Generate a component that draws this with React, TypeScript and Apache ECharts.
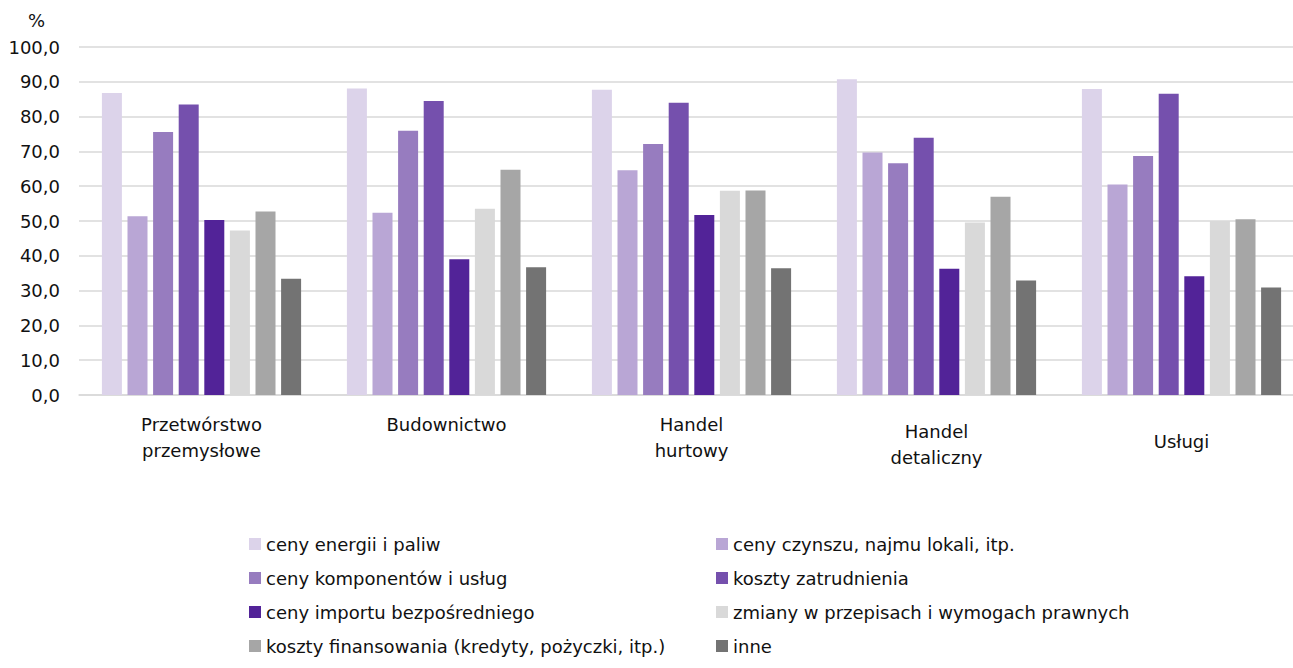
import React, { useEffect, useRef } from "react";
import * as echarts from "echarts";

const categories = [
  "Przetwórstwo\nprzemysłowe",
  "Budownictwo",
  "Handel\nhurtowy",
  "Handel\ndetaliczny",
  "Usługi",
];
const labelOffsets = [0, 0, 0, 7, 17];

const seriesNames = [
  "ceny energii i paliw",
  "ceny czynszu, najmu lokali, itp.",
  "ceny komponentów i usług",
  "koszty zatrudnienia",
  "ceny importu bezpośredniego",
  "zmiany w przepisach i wymogach prawnych",
  "koszty finansowania (kredyty, pożyczki, itp.)",
  "inne",
];
const colors = ["#DCD3EA", "#B9A6D5", "#977CBF", "#7550AD", "#522398", "#D9D9D9", "#A6A6A6", "#737373"];

const energia = [86.8, 88.1, 87.7, 90.7, 87.9];
const czynsz = [51.4, 52.4, 64.6, 69.7, 60.5];
const komponenty = [75.6, 75.9, 72.1, 66.6, 68.7];
const zatrudnienie = [83.5, 84.5, 84.0, 73.9, 86.6];
const import_ = [50.3, 39.0, 51.7, 36.3, 34.1];
const przepisy = [47.3, 53.5, 58.7, 49.6, 50.0];
const finansowanie = [52.7, 64.7, 58.8, 57.0, 50.5];
const inne = [33.4, 36.7, 36.4, 32.9, 30.9];
const seriesValues = [energia, czynsz, komponenty, zatrudnienie, import_, przepisy, finansowanie, inne];

const yTicks = { min: 0, max: 100, interval: 10 };

const FONT = "'DejaVu Sans', sans-serif";
const TXT = "#111";
const FS = 18;

export default function App() {
  const ref = useRef<HTMLDivElement>(null);
  useEffect(() => {
    document.body.style.margin = "0";
    document.body.style.overflow = "hidden";
    document.documentElement.style.overflow = "hidden";
    const chart = echarts.init(ref.current!, null, { renderer: "svg" });
    const legendBase = {
      orient: "vertical",
      top: 535,
      padding: 0,
      itemWidth: 12,
      itemHeight: 12,
      itemGap: 16,
      icon: "rect",
      textStyle: { fontSize: FS, color: TXT, fontFamily: FONT },
    };
    chart.setOption({
      animation: false,
      textStyle: { fontFamily: FONT },
      grid: { left: 79, width: 1225, top: 47, height: 348, containLabel: false },
      graphic: [
        {
          type: "text",
          left: 28,
          top: 11,
          style: { text: "%", font: `${FS}px ${FONT}`, fill: TXT },
        },
      ],
      legend: [
        {
          ...legendBase,
          left: 249,
          data: [seriesNames[0], seriesNames[2], seriesNames[4], seriesNames[6]],
        },
        {
          ...legendBase,
          left: 716,
          data: [seriesNames[1], seriesNames[3], seriesNames[5], seriesNames[7]],
        },
      ],
      xAxis: {
        type: "category",
        data: categories.map((c, i) => ({
          value: c,
          textStyle: { padding: [labelOffsets[i], 0, 0, 0] },
        })),
        axisLine: { show: true, lineStyle: { color: "#d9d9d9", width: 1.5 } },
        axisTick: { show: false },
        axisLabel: {
          interval: 0,
          margin: 16,
          fontSize: FS,
          lineHeight: 26,
          color: TXT,
          fontFamily: FONT,
        },
      },
      yAxis: {
        type: "value",
        min: yTicks.min,
        max: yTicks.max,
        interval: yTicks.interval,
        axisLabel: {
          fontSize: FS,
          color: TXT,
          fontFamily: FONT,
          margin: 19,
          formatter: (v: number) => v.toFixed(1).replace(".", ","),
        },
        splitLine: { lineStyle: { color: "#d9d9d9", width: 1.5 } },
        axisLine: { show: false },
        axisTick: { show: false },
      },
      series: seriesNames.map((name, i) => ({
        name,
        type: "bar",
        data: seriesValues[i],
        barWidth: 20,
        barGap: "28%",
        itemStyle: { color: colors[i] },
      })),
    });
    return () => chart.dispose();
  }, []);
  return (
    <div style={{ width: 1293, height: 668, overflow: "hidden" }}>
      <div ref={ref} style={{ width: 1304, height: 668 }} />
    </div>
  );
}
